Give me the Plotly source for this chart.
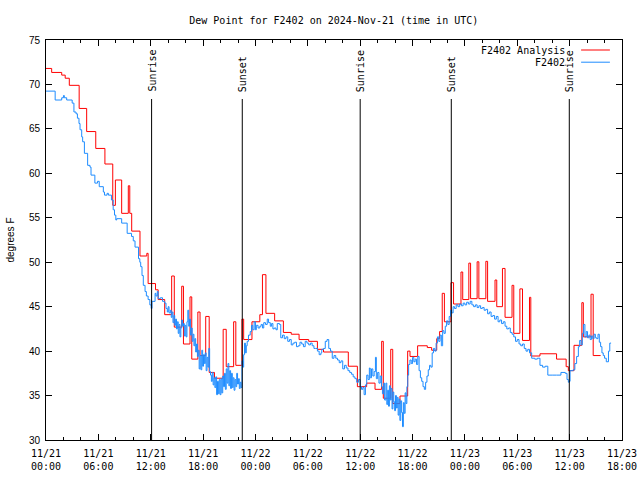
import pandas as pd
import plotly.graph_objects as go

# ---------------- data (hours after 2024-11-21 00:00 UTC, dew point in F) -------------
analysis_hours = [
    0.0, 0.65, 1.8, 2.2, 2.67, 3.8, 4.66, 5.7, 6.75, 7.65,
    7.95, 8.67, 9.43, 9.6, 9.82, 10.77, 11.55, 11.7, 12.55, 12.85,
    13.6, 14.4, 14.7, 15.55, 15.75, 16.5, 16.7, 17.4, 17.65, 18.3,
    18.7, 19.3, 20.3, 20.65, 21.5, 21.75, 22.45, 22.65, 23.6, 24.5,
    24.8, 25.2, 26.2, 27.2, 28.1, 29.0, 30.1, 31.1, 31.8, 34.64,
    35.68, 36.74, 37.7, 38.46, 38.65, 39.5, 39.73, 40.56, 41.44, 41.71,
    42.58, 43.69, 44.19, 44.77, 45.1, 45.4, 45.65, 46.4, 46.7, 47.55,
    47.75, 48.45, 48.65, 49.4, 49.6, 50.4, 50.6, 51.45, 51.65, 52.3,
    52.6, 53.4, 53.6, 54.3, 54.6, 55.4, 55.55, 56.6, 58.5, 59.6,
    59.85, 60.5, 61.4, 61.57, 62.45, 62.7, 63.55,
]
analysis_values = [
    71.8, 71.35, 71.05, 70.7, 69.9, 67.3, 64.7, 62.8, 61.05, 56.4,
    59.25, 55.5, 58.6, 55.5, 53.5, 50.7, 51.0, 47.6, 46.9, 45.8,
    44.1, 48.45, 42.7, 47.3, 40.8, 46.1, 39.1, 44.4, 39.5, 43.9,
    37.6, 36.95, 42.45, 38.25, 43.3, 38.4, 43.6, 41.3, 43.3, 44.1,
    48.6, 44.25, 43.4, 42.1, 41.9, 41.3, 41.1, 40.2, 39.9, 38.3,
    36.0, 36.4, 35.7, 41.1, 34.7, 40.2, 34.1, 34.95, 40.0, 39.4,
    40.6, 40.4, 40.1, 41.4, 42.2, 46.5, 43.3, 47.7, 45.3, 48.9,
    45.8, 49.9, 45.9, 50.05, 45.9, 50.1, 45.6, 48.0, 45.0, 49.3,
    43.8, 47.4, 42.0, 47.0, 41.2, 46.05, 39.45, 39.7, 39.1, 38.25,
    37.8, 40.65, 45.45, 41.6, 46.4, 39.5, 39.5,
]

obs_hours = [
    0.0, 1.05, 1.8, 2.0, 2.1, 2.37, 3.0, 3.2, 3.44, 3.6,
    3.78, 3.9, 4.09, 4.2, 4.4, 4.77, 5.04, 5.16, 5.6, 5.9,
    6.1, 6.57, 6.7, 7.0, 7.15, 7.5, 7.7, 7.85, 8.0, 8.1,
    8.67, 9.3, 9.8, 10.0, 10.2, 10.6, 10.75, 10.85, 11.0, 11.15,
    11.35, 11.5, 11.7, 11.9, 12.05, 12.15, 12.5, 12.6, 12.75, 12.85,
    13.1, 13.35, 13.6, 13.75, 13.9, 14.0, 14.1, 14.25, 14.35, 14.45,
    14.55, 14.65, 14.75, 14.85, 14.95, 15.05, 15.15, 15.25, 15.35, 15.45,
    15.55, 15.65, 15.75, 15.85, 15.95, 16.05, 16.15, 16.25, 16.35, 16.45,
    16.55, 16.65, 16.75, 16.85, 16.95, 17.05, 17.15, 17.25, 17.35, 17.45,
    17.55, 17.65, 17.75, 17.85, 17.95, 18.05, 18.15, 18.25, 18.35, 18.45,
    18.55, 18.65, 18.75, 18.85, 18.95, 19.05, 19.15, 19.25, 19.35, 19.45,
    19.55, 19.65, 19.75, 19.85, 19.95, 20.05, 20.15, 20.25, 20.35, 20.45,
    20.55, 20.65, 20.75, 20.85, 20.95, 21.05, 21.15, 21.25, 21.35, 21.45,
    21.55, 21.65, 21.75, 21.85, 21.95, 22.05, 22.15, 22.25, 22.35, 22.45,
    22.55, 22.65, 22.75, 22.85, 22.95, 23.05, 23.2, 23.4, 23.55, 23.7,
    23.85, 24.0, 24.1, 24.3, 24.5, 24.65, 24.8, 24.95, 25.15, 25.35,
    25.5, 25.7, 25.85, 26.0, 26.15, 26.35, 26.5, 26.75, 26.9, 27.1,
    27.3, 27.5, 27.7, 27.9, 28.1, 28.3, 28.5, 28.7, 28.9, 29.1,
    29.3, 29.5, 29.7, 29.9, 30.1, 30.3, 30.5, 30.7, 30.9, 31.1,
    31.3, 31.5, 31.6, 31.8, 32.0, 32.2, 32.4, 32.6, 32.8, 33.0,
    33.2, 33.4, 33.6, 33.8, 34.0, 34.2, 34.4, 34.6, 34.8, 35.0,
    35.2, 35.4, 35.6, 35.8, 36.0, 36.15, 36.3, 36.45, 36.6, 36.75,
    36.9, 37.05, 37.15, 37.3, 37.45, 37.6, 37.75, 37.85, 38.0, 38.15,
    38.3, 38.45, 38.55, 38.7, 38.8, 38.95, 39.05, 39.15, 39.25, 39.35,
    39.45, 39.55, 39.65, 39.75, 39.85, 39.95, 40.05, 40.15, 40.25, 40.35,
    40.45, 40.55, 40.65, 40.75, 40.85, 40.95, 41.05, 41.15, 41.25, 41.35,
    41.45, 41.55, 41.7, 41.85, 42.0, 42.15, 42.3, 42.45, 42.6, 42.75,
    42.9, 43.05, 43.2, 43.35, 43.5, 43.65, 43.8, 43.95, 44.1, 44.25,
    44.4, 44.55, 44.7, 44.85, 45.0, 45.15, 45.3, 45.45, 45.6, 45.75,
    45.9, 46.05, 46.2, 46.35, 46.5, 46.65, 46.8, 47.0, 47.2, 47.4,
    47.6, 47.8, 48.0, 48.2, 48.4, 48.6, 48.8, 49.0, 49.2, 49.4,
    49.6, 49.8, 50.0, 50.2, 50.4, 50.6, 50.8, 51.0, 51.2, 51.4,
    51.6, 51.8, 52.0, 52.2, 52.4, 52.6, 52.8, 53.0, 53.2, 53.4,
    53.6, 53.8, 54.0, 54.2, 54.4, 54.6, 54.8, 55.0, 55.2, 55.4,
    55.65, 56.0, 56.3, 56.6, 56.9, 57.2, 57.5, 58.0, 58.5, 59.0,
    59.5, 59.7, 59.85, 59.95, 60.05, 60.4, 60.6, 60.8, 61.0, 61.15,
    61.3, 61.45, 61.6, 61.75, 61.9, 62.05, 62.2, 62.35, 62.5, 62.65,
    62.8, 62.95, 63.1, 63.25, 63.4, 63.55, 63.7, 63.85, 64.0, 64.2,
    64.45, 64.6, 64.75,
]
obs_values = [
    69.25, 68.25, 68.5, 68.75, 68.5, 68.25, 67.9, 66.9, 66.7, 66.2,
    65.6, 64.9, 64.1, 63.55, 62.25, 60.9, 60.7, 59.8, 58.9, 59.1,
    58.5, 57.9, 57.55, 57.75, 57.55, 57.0, 55.9, 55.3, 54.75, 54.9,
    54.4, 53.25, 52.9, 52.4, 51.7, 50.4, 50.0, 49.5, 48.5, 47.4,
    46.7, 46.2, 45.8, 45.2, 44.8, 45.6, 46.5, 46.2, 46.7, 45.9,
    46.0, 45.6, 45.4, 44.8, 44.4, 45.0, 44.3, 44.6, 43.8, 44.4,
    43.2, 44.0, 42.9, 43.6, 42.5, 43.3, 42.0, 43.0, 41.6, 42.6,
    43.5, 42.8, 43.1, 41.7, 42.9, 41.6, 43.3, 44.6, 42.8, 43.6,
    41.8, 42.6, 41.1, 41.9, 40.6, 41.4, 39.9, 40.8, 39.4, 40.1,
    38.0, 39.5, 37.9, 40.1, 38.3, 39.6, 38.6, 39.8, 37.8, 39.3,
    38.2, 40.3, 37.7, 37.3, 36.6, 37.6, 36.2, 37.0, 35.9, 37.1,
    35.1, 36.6, 35.2, 36.8, 35.1, 36.9, 35.3, 37.2, 36.0, 37.5,
    35.7, 38.0, 36.4, 38.6, 36.1, 37.8, 35.8, 37.5, 35.9, 37.0,
    35.6, 36.8, 36.0, 37.5, 36.3, 36.9, 35.8, 36.5, 35.9, 38.9,
    38.2, 39.6, 40.9, 39.8, 40.6, 41.1, 41.8, 42.2, 42.9, 42.4,
    43.3, 42.4, 42.9, 42.6, 42.8, 43.0, 42.6, 43.2, 43.0, 43.6,
    43.2, 42.8, 43.1, 42.5, 42.6, 42.4, 43.1, 43.0, 41.5, 41.8,
    41.4, 41.6, 41.1, 41.3, 40.7, 40.9, 41.0, 40.5, 40.6, 41.0,
    40.8, 40.5, 41.1, 40.9, 40.7, 40.9, 40.6, 40.3, 40.3, 40.0,
    39.6, 39.8, 40.2, 40.3, 41.1, 41.3, 40.3, 40.0, 39.2, 39.5,
    39.2, 39.0, 38.7, 38.9, 38.0, 38.4, 38.1, 37.8, 37.6, 37.4,
    37.1, 36.9, 36.5, 36.8, 36.0, 35.7, 35.9, 35.1, 36.2, 37.3,
    36.8, 38.1, 37.0, 38.0, 37.2, 37.7, 39.3, 36.9, 37.6, 36.4,
    37.2, 36.0, 35.2, 36.4, 34.5, 36.4, 34.0, 35.6, 33.8, 36.1,
    34.5, 35.8, 33.5, 35.4, 34.3, 33.3, 35.0, 33.6, 34.8, 32.8,
    34.6, 32.2, 34.4, 33.1, 31.5, 34.2, 33.0, 35.3, 34.1, 36.0,
    37.3, 38.5, 39.0, 38.6, 39.3, 38.8, 39.1, 38.5, 39.4, 37.8,
    37.0, 36.6, 36.0, 35.7, 36.5, 37.2, 37.9, 38.4, 38.2, 39.8,
    40.3, 40.0, 40.9, 41.6, 41.1, 41.8, 40.6, 42.3, 42.0, 42.8,
    43.4, 43.0, 43.9, 44.6, 44.3, 45.0, 44.8, 45.2, 45.0, 45.3,
    45.1, 45.4, 45.2, 45.5, 45.3, 45.6, 45.2, 45.0, 45.2, 44.9,
    45.1, 44.8, 44.9, 44.6, 44.7, 44.2, 44.4, 43.9, 44.0, 43.6,
    43.9, 43.3, 43.5, 43.1, 43.3, 42.8, 42.5, 42.6, 42.1, 41.9,
    41.6, 41.1, 41.3, 40.8, 40.6, 40.8, 40.3, 40.0, 40.2, 39.8,
    39.2, 39.1, 39.2, 38.4, 38.2, 38.3, 37.3, 37.3, 37.3, 37.6,
    37.5, 36.8, 36.5, 36.6, 37.8, 37.9, 38.6, 39.4, 40.5, 41.2,
    40.7, 42.0, 43.0, 41.6, 42.2, 41.5, 41.8, 41.3, 41.7, 41.4,
    41.9, 41.5, 41.4, 41.9, 41.0, 40.5, 39.8, 39.5, 39.2, 38.8,
    40.0, 40.9, 40.9,
]

event_hours = [12.1, 22.49, 36.0, 46.44, 59.96]
event_labels = ["Sunrise", "Sunset", "Sunrise", "Sunset", "Sunrise"]

title_text = "Dew Point for F2402 on 2024-Nov-21 (time in UTC)"
series_names = ["F2402 Analysis", "F2402"]
series_colors = ["#ff0000", "#1e8cff"]
y_label = "degrees F"

# ---------------- build figure ----------------
base = pd.Timestamp("2024-11-21 00:00")
to_time = lambda hrs: [base + pd.Timedelta(hours=h) for h in hrs]

MONO = "DejaVu Sans Mono"
SANS = "Liberation Sans"

fig = go.Figure()
fig.add_trace(go.Scatter(x=to_time(analysis_hours), y=analysis_values, mode="lines",
                         line=dict(color=series_colors[0], width=1, shape="hv"),
                         name=series_names[0], showlegend=False))
fig.add_trace(go.Scatter(x=to_time(obs_hours), y=obs_values, mode="lines",
                         line=dict(color=series_colors[1], width=1, shape="hv"),
                         name=series_names[1], showlegend=False))

# sunrise / sunset markers
line_top = 0.8525
for t, lab in zip(to_time(event_hours), event_labels):
    fig.add_shape(type="line", xref="x", yref="paper", x0=t, x1=t, y0=0, y1=line_top,
                  line=dict(color="black", width=1))
    fig.add_annotation(x=t, y=0.865, xref="x", yref="paper", text=lab, textangle=-90,
                       showarrow=False, xanchor="center", yanchor="bottom",
                       font=dict(family=MONO, size=10, color="black"))

# gnuplot-style key (top right, text right-aligned, sample line on the right)
key_y = [0.975, 0.9445]
for name, col, ky in zip(series_names, series_colors, key_y):
    fig.add_annotation(x=0.9045, y=ky, xref="paper", yref="paper", text=name,
                       showarrow=False, xanchor="right", yanchor="middle",
                       font=dict(family=MONO, size=10, color="black"))
    fig.add_shape(type="line", xref="paper", yref="paper", x0=0.929, x1=0.979,
                  y0=ky, y1=ky, line=dict(color=col, width=1))

fig.update_layout(
    width=640, height=480,
    margin=dict(l=46, r=18, t=40, b=40, autoexpand=False),
    paper_bgcolor="white", plot_bgcolor="white",
    title=dict(text=title_text, x=0.5215, xanchor="center", y=0.958, yanchor="middle",
               font=dict(family=MONO, size=10, color="black")),
    showlegend=False,
)
fig.update_xaxes(
    type="date", automargin=False,
    range=[base, base + pd.Timedelta(hours=66)],
    dtick=6 * 3600 * 1000, tick0=base,
    tickformat="%m/%d<br>%H:%M",
    ticks="inside", ticklen=6, tickcolor="black",
    minor=dict(dtick=2 * 3600 * 1000, ticks="inside", ticklen=3, tickcolor="black"),
    showline=True, linecolor="black", linewidth=1, mirror="ticks",
    showgrid=False, zeroline=False,
    tickfont=dict(family=MONO, size=10, color="black"),
    ticklabelstandoff=4,
)
fig.update_yaxes(
    automargin=False,
    range=[30, 75], dtick=5,
    ticks="inside", ticklen=6, tickcolor="black",
    showline=True, linecolor="black", linewidth=1, mirror="ticks",
    showgrid=False, zeroline=False,
    tickfont=dict(family=SANS, size=10, color="black"),
    ticklabelstandoff=3,
    title=dict(text=y_label, font=dict(family=SANS, size=10, color="black"), standoff=12),
)

fig.write_html("out.html",
               config={"displayModeBar": False, "staticPlot": True},
               post_script="document.body.style.margin='0';document.body.style.overflow='hidden';")
